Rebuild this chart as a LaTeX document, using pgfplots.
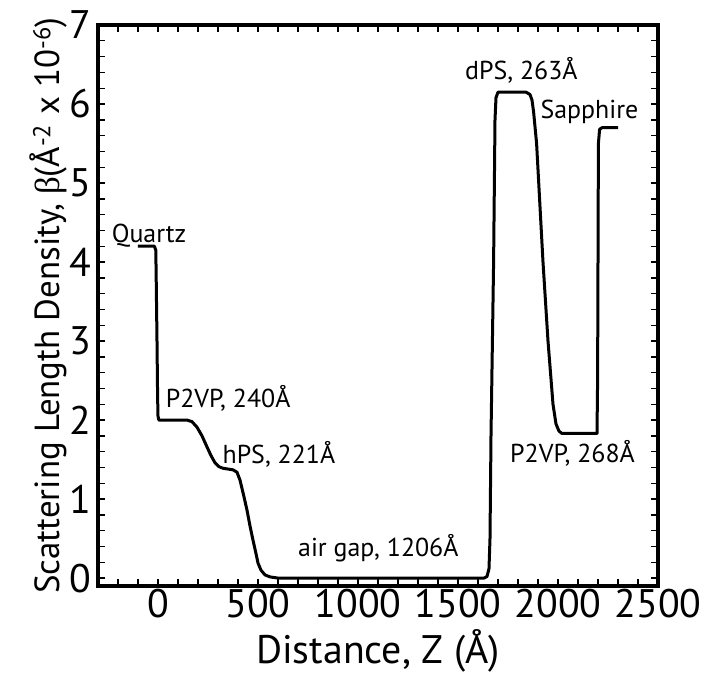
\documentclass[border=0pt]{standalone}
\usepackage{pgfplots}
\pgfplotsset{compat=1.18}
\usepackage{fontspec}
\setmainfont{PT Sans}
\newfontfamily\greekfont{Liberation Serif}
\begin{document}
\begin{tikzpicture}
\begin{axis}[
  name=ax,
  scale only axis,
  width=560bp, height=561bp,
  xmin=-300, xmax=2500,
  ymin=-0.1, ymax=7,
  xtick={0,500,...,2500},
  ytick={0,1,...,7},
  minor xtick={-200,-100,...,2400},
  minor ytick={0.2,0.4,...,6.8},
  major tick length=7bp,
  minor tick length=7bp,
  every tick/.style={black, line width=1.4bp},
  axis line style={line width=4.5bp},
  /pgf/number format/assume math mode=true,
  /pgf/number format/1000 sep={},
  ticklabel style={font=\fontsize{40}{40}\selectfont},
  yticklabel style={xshift=-3bp},
  xlabel={Distance, Z (Å)},
  ylabel={Scattering Length Density, {\greekfont β}(Å\textsuperscript{-2} x 10\textsuperscript{-6})},
  xlabel style={font=\fontsize{40}{40}\selectfont, yshift=-4bp},
  ylabel style={font=\fontsize{35}{35}\selectfont, yshift=-4bp},
  clip=false,
]
\addplot[black, line width=3bp, line join=round] coordinates {
(-100,4.2) (-18,4.2) (-11,4.15) (-9,3.8) (-5,3.0) (-2,2.3) (0,2.05) (4,2.0)
(145,2.0) (170,1.98) (195,1.91) (220,1.80) (245,1.66) (265,1.55) (285,1.46)
(305,1.41) (325,1.39) (375,1.37) (395,1.34) (410,1.24) (428,1.05) (445,0.86)
(460,0.66) (475,0.48) (490,0.31) (500,0.19) (515,0.10) (535,0.04) (560,0.015)
(600,0.0) (1630,0.0) (1645,0.02) (1655,0.12) (1660,0.5) (1665,1.8) (1678,4.0)
(1685,5.8) (1690,6.08) (1700,6.15) (1840,6.15) (1860,6.12) (1870,6.05)
(1878,5.9) (1893,5.5) (1910,4.7) (1925,4.0) (1950,3.0) (1975,2.2) (1990,1.95)
(2005,1.86) (2020,1.83) (2195,1.83) (2198,2.5) (2202,5.5) (2208,5.68)
(2220,5.7) (2300,5.7)
};
\begin{scope}[every node/.style={font=\fontsize{26}{26}\selectfont, inner sep=0pt}]
\node[anchor=west] at (axis cs:-232,4.34) {Quartz};
\node[anchor=west] at (axis cs:38,2.27) {P2VP, 240Å};
\node[anchor=west] at (axis cs:322,1.56) {hPS, 221Å};
\node[anchor=west] at (axis cs:700,0.38) {air gap, 1206Å};
\node[anchor=west] at (axis cs:1535,6.43) {dPS, 263Å};
\node[anchor=west] at (axis cs:1912,5.9) {Sapphire};
\node[anchor=west] at (axis cs:1760,1.58) {P2VP, 268Å};
\end{scope}
\end{axis}
\pgfresetboundingbox
\path[use as bounding box] ([shift={(-98bp,-92bp)}]ax.south west) rectangle ([shift={(46bp,25bp)}]ax.north east);
\end{tikzpicture}
\end{document}
